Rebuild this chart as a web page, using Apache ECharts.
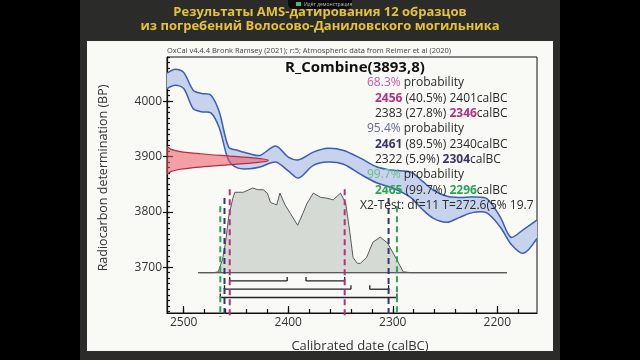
<!DOCTYPE html>
<html><head><meta charset="utf-8">
<script src="https://cdn.jsdelivr.net/npm/echarts@6/dist/echarts.min.js"></script>
<style>html,body{margin:0;padding:0;background:#000;}#c{width:640px;height:360px;}</style>
</head><body><div id="c"></div>
<script>
// ---------------- data ----------------
const titleLines = ['Результаты AMS-датирования 12 образцов', 'из погребений Волосово-Даниловского могильника'];
const headerText = 'OxCal v4.4.4 Bronk Ramsey (2021); r:5; Atmospheric data from Reimer et al (2020)';
const combineTitle = 'R_Combine(3893,8)';
const xTicks = [2500, 2400, 2300, 2200];
const yTicks = [3700, 3800, 3900, 4000];

// calibration curve band (calBC, upper/lower BP)
const calBC      = [2516, 2508, 2500, 2491, 2483, 2474, 2466, 2457, 2448, 2437, 2427, 2412, 2400, 2390, 2376, 2362, 2347, 2331, 2315, 2300, 2283, 2272, 2261, 2248, 2236, 2223, 2210, 2197, 2187, 2175, 2162];
const curveUpper = [4051, 4058, 4052, 4020, 4014, 4011, 3981, 3917, 3911, 3905, 3902, 3919, 3899, 3894, 3908, 3915, 3911, 3897, 3881, 3875, 3872, 3856, 3839, 3828, 3826, 3827, 3824, 3790, 3754, 3768, 3785];
const curveLower = [4023, 4029, 4023, 3987, 3981, 3979, 3952, 3893, 3879, 3878, 3881, 3890, 3874, 3861, 3884, 3890, 3886, 3868, 3852, 3843, 3826, 3805, 3788, 3781, 3790, 3799, 3798, 3772, 3742, 3725, 3752];

// radiocarbon measurement distribution (on the y axis)
const rDateBP      = [3869, 3873, 3877, 3881, 3885, 3889, 3893, 3897, 3901, 3905, 3909, 3913, 3917];
const rDateDensity = [0.0, 0.04, 0.13, 0.33, 0.60, 0.88, 1.0, 0.88, 0.60, 0.33, 0.13, 0.04, 0.0];

// calibrated posterior distribution
const postBC      = [2486, 2471, 2467, 2463, 2460, 2457, 2453, 2451, 2443, 2434, 2429, 2424, 2420, 2417, 2411, 2408, 2403, 2398, 2391, 2386, 2382, 2376, 2369, 2363, 2357, 2350, 2345, 2341, 2338, 2334, 2331, 2325, 2319, 2312, 2305, 2296, 2290, 2283, 2191];
const postDensity = [0, 0, 0.01, 0.15, 0.35, 0.66, 0.88, 0.95, 0.95, 1.0, 0.98, 0.98, 0.94, 0.83, 0.80, 0.94, 0.80, 0.70, 0.56, 0.70, 0.82, 0.94, 0.89, 0.88, 0.86, 0.94, 0.82, 0.47, 0.18, 0.11, 0.11, 0.18, 0.36, 0.42, 0.35, 0.15, 0.01, 0, 0];

// probability ranges
const range68 = [[2456, 2401], [2383, 2346]];
const pct68   = ['40.5', '27.8'];
const range95 = [[2461, 2340], [2322, 2304]];
const pct95   = ['89.5', '5.9'];
const range99 = [[2465, 2296]];
const pct99   = ['99.7'];
const chiText = 'X2-Test: df=11 T=272.6(5% 19.7)';

// ---------------- layout / style ----------------
const X_MIN = 2162, X_MAX = 2516, Y_MIN = 3617, Y_MAX = 4080;
const RLEN = 97;            // length of measurement distribution (years)
const POST_BASE = 3690, POST_H = 153;
const ROW_BP = [3675, 3660, 3645];
const DASH_TOP = [3841, 3825, 3810];
const COL68 = '#b3307e', COL95 = '#36366f', COL99 = '#2ea457';
const FONT = "'Open Sans', 'DejaVu Sans', sans-serif";

const xMinor = [];
for (let v = 2180; v <= 2500; v += 20) xMinor.push(v);
const yMinor = [];
for (let v = 3620; v <= 4080; v += 10) yMinor.push(v);

function bandItem(p, api) {
  const up = calBC.map((x, i) => api.coord([x, curveUpper[i]]));
  const lo = calBC.map((x, i) => api.coord([x, curveLower[i]]));
  return { type: 'group', children: [
    { type: 'polygon', shape: { points: up.concat(lo.slice().reverse()), smooth: 0.3 }, style: { fill: '#c7d2ec', stroke: 'none' } },
    { type: 'polyline', shape: { points: up, smooth: 0.3 }, style: { stroke: '#3b5db5', lineWidth: 1.5, fill: 'none' } },
    { type: 'polyline', shape: { points: lo, smooth: 0.3 }, style: { stroke: '#3b5db5', lineWidth: 1.5, fill: 'none' } }
  ]};
}
function rDateItem(p, api) {
  const pts = rDateBP.map((b, i) => api.coord([X_MAX - rDateDensity[i] * RLEN, b]));
  return { type: 'polygon', shape: { points: pts, smooth: 0.3 }, style: { fill: 'rgba(236,86,100,0.55)', stroke: '#b92a3c', lineWidth: 1.2 } };
}
function postItem(p, api) {
  const pts = [api.coord([postBC[0], POST_BASE])]
    .concat(postBC.map((x, i) => api.coord([x, POST_BASE + postDensity[i] * POST_H])))
    .concat([api.coord([postBC[postBC.length - 1], POST_BASE])]);
  const a = api.coord([postBC[0], POST_BASE]), b = api.coord([postBC[postBC.length - 1], POST_BASE]);
  return { type: 'group', children: [
    { type: 'polygon', shape: { points: pts }, style: { fill: '#d6dad5', stroke: '#5a5a5a', lineWidth: 1 } },
    { type: 'line', shape: { x1: a[0], y1: a[1], x2: b[0], y2: b[1] }, style: { stroke: '#5a5a5a', lineWidth: 1.2 } }
  ]};
}
function dashItem(p, api) {
  const sets = [[range99, COL99, DASH_TOP[2]], [range95, COL95, DASH_TOP[1]], [range68, COL68, DASH_TOP[0]]];
  const ch = [];
  sets.forEach(([rg, col, top]) => {
    const xs = [rg[0][0], rg[rg.length - 1][1]];
    xs.forEach(x => {
      const t = api.coord([x, top]), b = api.coord([x, Y_MIN]);
      ch.push({ type: 'line', shape: { x1: t[0], y1: t[1], x2: b[0], y2: b[1] + 4 }, style: { stroke: col, lineWidth: 2, lineDash: [6, 4] } });
    });
  });
  return { type: 'group', children: ch };
}
function barItem(p, api) {
  const ch = [];
  [range68, range95, range99].forEach((rg, r) => {
    rg.forEach(([s, e]) => {
      const a = api.coord([s, ROW_BP[r]]), b = api.coord([e, ROW_BP[r]]);
      ch.push({ type: 'line', shape: { x1: a[0], y1: a[1], x2: b[0], y2: b[1] }, style: { stroke: '#222', lineWidth: 1.3 } });
      ch.push({ type: 'line', shape: { x1: a[0], y1: a[1], x2: a[0], y2: a[1] - 4 }, style: { stroke: '#222', lineWidth: 1.3 } });
      ch.push({ type: 'line', shape: { x1: b[0], y1: b[1], x2: b[0], y2: b[1] - 4 }, style: { stroke: '#222', lineWidth: 1.3 } });
    });
  });
  return { type: 'group', children: ch };
}

function rangeLine(rg, pct, i) {
  const first = i === 0, last = i === rg.length - 1;
  const s = rg[i][0], e = rg[i][1];
  return (first ? '{b|' + s + '}' : s) + ' (' + pct[i] + '%) ' + (last ? '{b|' + e + '}' : e) + 'calBC';
}

const textEls = [];
function addLine(x, y, text, boldCol, headCol) {
  const rich = {};
  if (boldCol) rich.b = { fill: boldCol, fontWeight: 'bold', fontSize: 12, fontFamily: FONT };
  if (headCol) rich.h = { fill: headCol, fontSize: 12, fontFamily: FONT };
  textEls.push({ type: 'text', x: x, y: y, z: 100, style: { text: text, rich: rich, fill: '#2a2a2a', fontSize: 12, fontFamily: FONT, textAlign: 'left', textVerticalAlign: 'middle' } });
}
const lineYs = [83, 98.5, 114, 129, 144.5, 160, 175, 190.5, 206];
addLine(367, lineYs[0], '{h|68.3%} probability', null, '#cc55aa');
addLine(375, lineYs[1], rangeLine(range68, pct68, 0), COL68);
addLine(375, lineYs[2], rangeLine(range68, pct68, 1), COL68);
addLine(367, lineYs[3], '{h|95.4%} probability', null, '#6a6a9e');
addLine(375, lineYs[4], rangeLine(range95, pct95, 0), COL95);
addLine(375, lineYs[5], rangeLine(range95, pct95, 1), COL95);
addLine(367, lineYs[6], '{h|99.7%} probability', null, '#66c184');
addLine(375, lineYs[7], rangeLine(range99, pct99, 0), COL99);
textEls.push({ type: 'text', x: 360, y: lineYs[8], z: 100, style: { text: chiText, width: 177, overflow: 'truncate', ellipsis: '', fill: '#2a2a2a', fontSize: 12, fontFamily: FONT, textAlign: 'left', textVerticalAlign: 'middle' } });

const chart = echarts.init(document.getElementById('c'), null, { renderer: 'canvas' });
const plain = v => String(v);
const tickStyle = { color: '#111', width: 1.2 };
const axisCommonX = { type: 'value', min: X_MIN, max: X_MAX, inverse: true, position: 'bottom', splitLine: { show: false } };
const axisCommonY = { type: 'value', min: Y_MIN, max: Y_MAX, position: 'left', splitLine: { show: false } };
chart.setOption({
  animation: false,
  backgroundColor: '#000',
  grid: { left: 167, top: 57, width: 370, height: 256, show: true, borderColor: '#111', borderWidth: 1, backgroundColor: 'transparent' },
  xAxis: [
    Object.assign({}, axisCommonX, {
      axisLine: { show: true, lineStyle: { color: '#111', width: 1.2 } },
      axisTick: { show: true, inside: true, length: 7, customValues: xTicks, lineStyle: tickStyle },
      axisLabel: { show: true, customValues: xTicks, formatter: plain, color: '#333', fontSize: 12, fontFamily: FONT, margin: 4 }
    }),
    Object.assign({}, axisCommonX, {
      axisLine: { show: false },
      axisTick: { show: true, inside: true, length: 4, customValues: xMinor, lineStyle: tickStyle },
      axisLabel: { show: false }
    })
  ],
  yAxis: [
    Object.assign({}, axisCommonY, {
      axisLine: { show: true, lineStyle: { color: '#111', width: 1.2 } },
      axisTick: { show: true, inside: true, length: 6, customValues: yTicks, lineStyle: tickStyle },
      axisLabel: { show: true, customValues: yTicks, formatter: plain, color: '#333', fontSize: 12, fontFamily: FONT, margin: 5 }
    }),
    Object.assign({}, axisCommonY, {
      axisLine: { show: false },
      axisTick: { show: true, inside: true, length: 3, customValues: yMinor, lineStyle: tickStyle },
      axisLabel: { show: false }
    }),
    Object.assign({}, axisCommonY, {
      axisLine: { show: false },
      axisTick: { show: true, inside: false, length: 4, customValues: yTicks, lineStyle: tickStyle },
      axisLabel: { show: false }
    })
  ],
  graphic: [
    { type: 'rect', z: -100, shape: { x: 80, y: 0, width: 480, height: 360 }, style: { fill: '#2b2b29' } },
    { type: 'rect', z: -99, shape: { x: 87, y: 41, width: 466, height: 310 }, style: { fill: '#f9f9f6' } },
    { type: 'rect', z: -98, shape: { x: 288, y: -6, width: 64, height: 15, r: 5 }, style: { fill: '#0b0b0b' } },
    { type: 'rect', z: -97, shape: { x: 296, y: 2, width: 5, height: 4 }, style: { fill: '#3bbf73' } },
    { type: 'text', z: -96, x: 304, y: 4.5, style: { text: 'Идёт демонстрация', fill: '#bbbbbb', fontSize: 5, fontFamily: FONT, textVerticalAlign: 'middle' } },
    { type: 'text', z: 10, x: 320, y: 12.5, style: { text: titleLines[0], fill: '#e4c23a', fontSize: 13, fontWeight: 'bold', fontFamily: FONT, textAlign: 'center', textVerticalAlign: 'middle' } },
    { type: 'text', z: 10, x: 320, y: 26.5, style: { text: titleLines[1], fill: '#e4c23a', fontSize: 13, fontWeight: 'bold', fontFamily: FONT, textAlign: 'center', textVerticalAlign: 'middle' } },
    { type: 'text', z: 10, x: 167, y: 51, style: { text: headerText, fill: '#444', fontSize: 7.5, fontFamily: FONT, textVerticalAlign: 'middle' } },
    { type: 'text', z: 100, x: 355, y: 68, style: { text: combineTitle, fill: '#111', fontSize: 15, fontWeight: 'bold', fontFamily: FONT, textAlign: 'center', textVerticalAlign: 'middle' } },
    { type: 'text', z: 10, x: 103, y: 178, rotation: Math.PI / 2, style: { text: 'Radiocarbon determination (BP)', fill: '#333', fontSize: 12.5, fontFamily: FONT, textAlign: 'center', textVerticalAlign: 'middle' } },
    { type: 'text', z: 10, x: 360, y: 346, style: { text: 'Calibrated date (calBC)', fill: '#333', fontSize: 13, fontFamily: FONT, textAlign: 'center', textVerticalAlign: 'middle' } }
  ].concat(textEls),
  series: [
    { type: 'custom', coordinateSystem: 'cartesian2d', xAxisIndex: 0, yAxisIndex: 0, clip: true, silent: true, z: 2, data: [[calBC[0], curveUpper[0]]], renderItem: bandItem },
    { type: 'custom', coordinateSystem: 'cartesian2d', xAxisIndex: 0, yAxisIndex: 0, clip: true, silent: true, z: 3, data: [[X_MAX, rDateBP[0]]], renderItem: rDateItem },
    { type: 'custom', coordinateSystem: 'cartesian2d', xAxisIndex: 0, yAxisIndex: 0, clip: true, silent: true, z: 3, data: [[postBC[0], POST_BASE]], renderItem: postItem },
    { type: 'custom', coordinateSystem: 'cartesian2d', xAxisIndex: 0, yAxisIndex: 0, clip: false, silent: true, z: 4, data: [[range99[0][0], POST_BASE]], renderItem: barItem },
    { type: 'custom', coordinateSystem: 'cartesian2d', xAxisIndex: 0, yAxisIndex: 0, clip: false, silent: true, z: 5, data: [[range99[0][0], POST_BASE]], renderItem: dashItem }
  ]
});
</script></body></html>
